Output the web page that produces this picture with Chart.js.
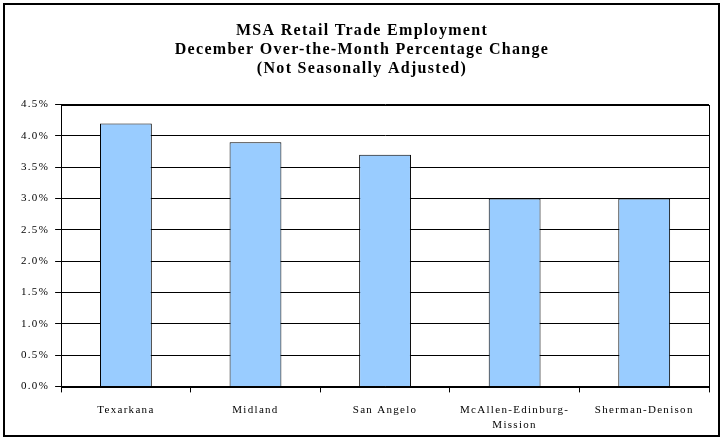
<!DOCTYPE html>
<html>
<head>
<meta charset="utf-8">
<script src="https://cdn.jsdelivr.net/npm/chart.js@4"></script>
<style>
body { margin:0; background:#fff; }
#wrap { width:723px; height:440px; }
</style>
</head>
<body>
<div id="wrap"><canvas id="grafico" width="723" height="440"></canvas></div>
<script>
// datos
var ciudades = ["Texarkana", "Midland", "San Angelo", ["McAllen-Edinburg-", "Mission"], "Sherman-Denison"];
var cambios = [4.2, 3.9, 3.7, 3.0, 3.0];
var titulo = ["MSA Retail Trade Employment", "December Over-the-Month Percentage Change", "(Not Seasonally Adjusted)"];

// el texto original va un poco espaciado
var espaciado = {
    id: "espaciado",
    beforeUpdate: function(chart) { chart.ctx.letterSpacing = "1.3px"; },
    beforeDraw: function(chart) { chart.ctx.letterSpacing = "1.3px"; }
};

// marco exterior y caja del area de trazado
var marcos = {
    id: "marcos",
    afterDraw: function(chart) {
        var c = chart.ctx;
        var a = chart.chartArea;
        c.save();
        c.strokeStyle = "#000";
        c.lineWidth = 1;
        c.strokeRect(Math.round(a.left) + 0.5, Math.round(a.top) + 0.5, Math.round(a.right - a.left), Math.round(a.bottom - a.top));
        c.lineWidth = 2;
        c.strokeRect(4, 4, 715, 432);
        c.restore();
    }
};

var ctx = document.getElementById("grafico").getContext("2d");
Chart.defaults.font.family = "'Liberation Serif', 'Times New Roman', serif";
Chart.defaults.color = "#000";

var chart = new Chart(ctx, {
    type: "bar",
    data: {
        labels: ciudades,
        datasets: [{
            data: cambios,
            backgroundColor: "#99CCFF",
            borderColor: "#000",
            borderWidth: 1,
            categoryPercentage: 1,
            barPercentage: 0.4
        }]
    },
    options: {
        responsive: false,
        animation: false,
        layout: { padding: { left: 15, right: 14, top: 8, bottom: -3 } },
        plugins: {
            legend: { display: false },
            tooltip: { enabled: false },
            title: {
                display: true,
                text: titulo,
                font: { size: 16, weight: "bold" },
                lineHeight: 1.2,
                padding: { top: 13, bottom: 26 }
            }
        },
        scales: {
            x: {
                grid: { offset: true, drawOnChartArea: false, color: "#000", tickLength: 6 },
                border: { color: "#000" },
                ticks: { font: { size: 11, lineHeight: 1.3 }, maxRotation: 0, autoSkip: false, padding: 11 }
            },
            y: {
                min: 0,
                max: 4.5,
                grid: { color: "#000", tickLength: 6 },
                border: { color: "#000" },
                ticks: {
                    stepSize: 0.5,
                    font: { size: 11 },
                    padding: 6,
                    callback: function(v) { return v.toFixed(1) + "%"; }
                }
            }
        }
    },
    plugins: [espaciado, marcos]
});
</script>
</body>
</html>
